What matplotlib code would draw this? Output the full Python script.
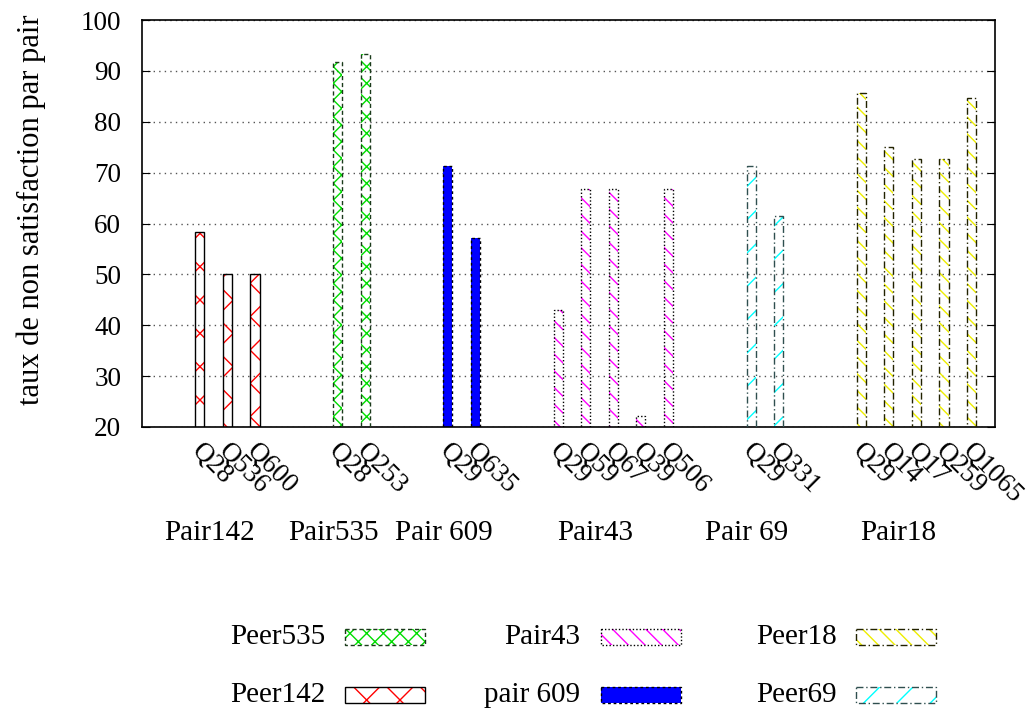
import matplotlib
matplotlib.use("Agg")
import matplotlib.pyplot as plt
from matplotlib.patches import Rectangle
from matplotlib.transforms import blended_transform_factory, ScaledTranslation

plt.rcParams['font.family'] = ['Liberation Serif', 'DejaVu Serif']
plt.rcParams['hatch.linewidth'] = 1.0

# ---- data ----
groups = ["Pair142", "Pair535", "Pair 609", "Pair43", "Pair 69", "Pair18"]
series_names = ["Peer142", "Peer535", "pair 609", "Pair43", "Peer69", "Peer18"]
queries_142 = ["Q28", "Q536", "Q600"]
values_142 = [58.3, 50.0, 50.0]
queries_535 = ["Q28", "Q253"]
values_535 = [91.7, 93.3]
queries_609 = ["Q29", "Q635"]
values_609 = [71.4, 57.1]
queries_43 = ["Q29", "Q59", "Q67", "Q39", "Q506"]
values_43 = [42.9, 66.7, 66.7, 22.2, 66.7]
queries_69 = ["Q29", "Q331"]
values_69 = [71.4, 61.5]
queries_18 = ["Q29", "Q14", "Q17", "Q259", "Q1065"]
values_18 = [85.7, 75.0, 72.7, 72.7, 84.6]
yticks = [20, 30, 40, 50, 60, 70, 80, 90, 100]

all_queries = [queries_142, queries_535, queries_609, queries_43, queries_69, queries_18]
all_values = [values_142, values_535, values_609, values_43, values_69, values_18]

# ---- styles ----
styles = [
    dict(face='none', hatch='x', hcol='#ff0000', edge='#000000', ls='-'),
    dict(face='none', hatch='xx', hcol='#00dd00', edge='#1a3a1a', ls=(0, (3, 2))),
    dict(face='#0000ff', hatch=None, hcol='#0000ff', edge='#000000', ls=(0, (2, 2))),
    dict(face='none', hatch='\\\\', hcol='#ff00ff', edge='#000000', ls=(0, (1, 1.5))),
    dict(face='none', hatch='/', hcol='#00ffff', edge='#2f4f4f', ls=(0, (5, 2, 1, 2))),
    dict(face='none', hatch='\\\\', hcol='#eeee00', edge='#222200', ls=(0, (5, 2, 1, 2))),
]

W, H = 1031, 713
fig = plt.figure(figsize=(W / 100, H / 100), dpi=100)
ax = fig.add_axes([142 / W, 1 - 427 / H, 853 / W, 407 / H])

gap = 2
width = 0.33
pos = 0
tick_pos = []
tick_lab = []
centers = []
for qs, vals, st in zip(all_queries, all_values, styles):
    xs = [pos + i for i in range(len(qs))]
    if st['hatch']:
        ax.bar(xs, vals, width=width, color='none', edgecolor=st['hcol'],
               hatch=st['hatch'], linewidth=0, zorder=2)
    else:
        ax.bar(xs, vals, width=width, color=st['face'], edgecolor='none',
               linewidth=0, zorder=2)
    ax.bar(xs, vals, width=width, fill=False, edgecolor=st['edge'],
           linewidth=1.0, linestyle=st['ls'], zorder=3)
    tick_pos += xs
    tick_lab += qs
    centers.append((xs[0] + xs[-1]) / 2)
    pos += len(qs) + gap

ax.set_xlim(-2.1, 28.85)
ax.set_ylim(20, 100)
ax.set_yticks(yticks)
ax.tick_params(axis='y', direction='in', length=6, right=True, labelsize=19.5, pad=15)
ax.set_xticks(tick_pos)
ax.set_xticklabels(tick_lab, rotation=-45, ha='left', va='center',
                   rotation_mode='anchor', fontsize=19.5)
ax.tick_params(axis='x', length=0, pad=15)
shift = ScaledTranslation(-5 / 100, 0, fig.dpi_scale_trans)
for t in ax.get_xticklabels():
    t.set_transform(t.get_transform() + shift)
ax.yaxis.grid(True, linestyle=(0, (1, 3)), color='#555555', linewidth=1)
ax.set_axisbelow(True)
for sp in ax.spines.values():
    sp.set_linewidth(1.2)

trans = blended_transform_factory(ax.transData, ax.transAxes)
for c, g in zip(centers, groups):
    ax.text(c - 0.65, -0.26, g, transform=trans, ha='center', va='center', fontsize=21)

fig.text(31 / W, 1 - 210 / H, "taux de non satisfaction par pair", rotation=90,
         ha='center', va='center', fontsize=22)

# ---- legend (manual, gnuplot-style) ----
lax = fig.add_axes([0, 0, 1, 1])
lax.set_xlim(0, W)
lax.set_ylim(H, 0)
lax.axis('off')
legend_order = [1, 3, 5, 0, 2, 4]
text_right = [325, 580, 837]
box_left = [345, 601, 856]
row_y = [637, 695]
for k, si in enumerate(legend_order):
    r, c = divmod(k, 3)
    st = styles[si]
    y = row_y[r]
    lax.text(text_right[c], y, series_names[si], ha='right', va='center', fontsize=21)
    if st['hatch']:
        lax.add_patch(Rectangle((box_left[c], y - 8), 80, 16, facecolor='none',
                                edgecolor=st['hcol'], hatch=st['hatch'], linewidth=0))
    else:
        lax.add_patch(Rectangle((box_left[c], y - 8), 80, 16, facecolor=st['face'],
                                edgecolor='none', linewidth=0))
    lax.add_patch(Rectangle((box_left[c], y - 8), 80, 16, fill=False,
                            edgecolor=st['edge'], linewidth=1.0, linestyle=st['ls']))

fig.savefig("out.png", dpi=100)
